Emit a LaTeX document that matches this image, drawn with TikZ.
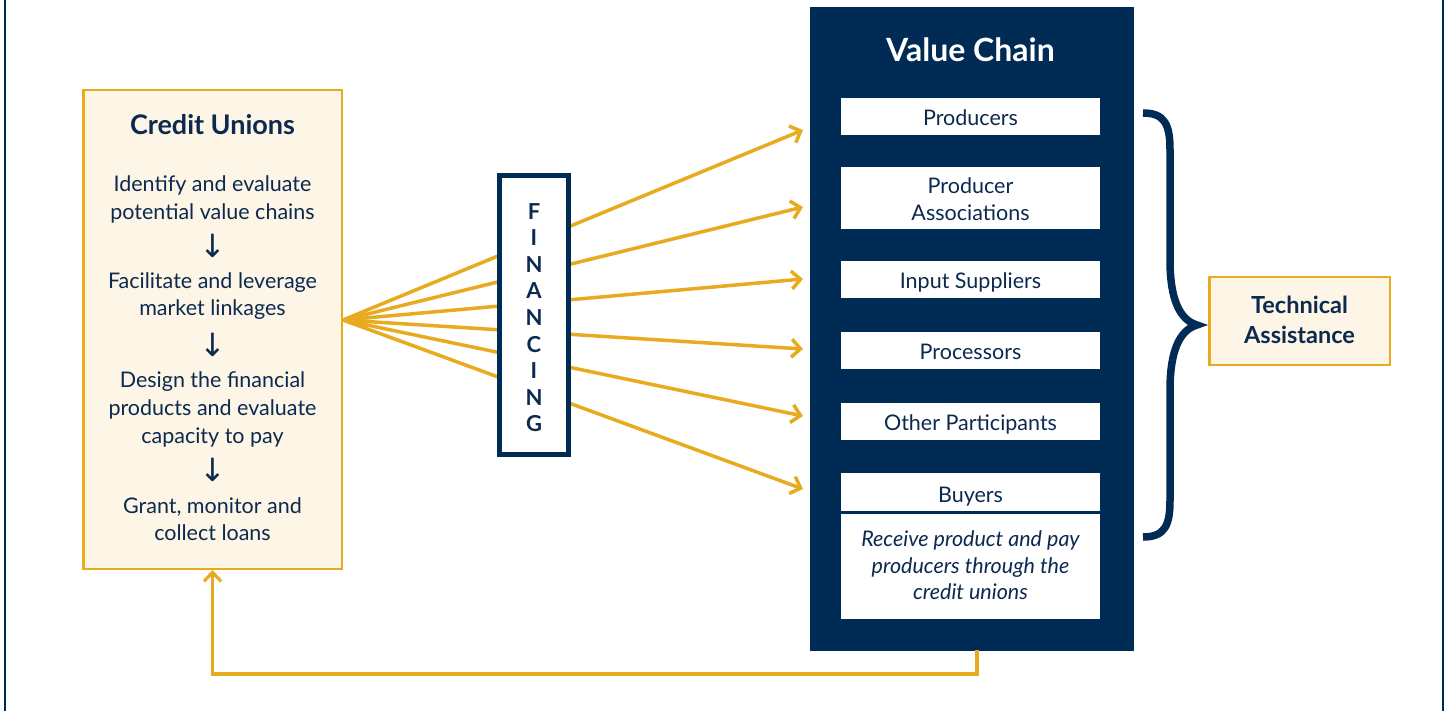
\documentclass[tikz,border=0pt]{standalone}
\usepackage{fontspec}
\setmainfont{Lato}
\newfontfamily\symfont{DejaVu Sans}
\usetikzlibrary{arrows.meta}
\definecolor{navy}{HTML}{002B55}
\definecolor{textnavy}{HTML}{0C2A50}
\definecolor{gold}{HTML}{E8AA1E}
\definecolor{cream}{HTML}{FDF5E5}
\begin{document}
\begin{tikzpicture}[x=1pt,y=-1pt,
  goldbox/.style={draw=gold,line width=2.5pt,fill=cream,inner sep=0pt},
  vcbox/.style={fill=navy,inner sep=0pt},
  wbox/.style={fill=white,inner sep=0pt,minimum width=259pt},
  finbox/.style={draw=navy,line width=5pt,fill=white,inner sep=0pt},
  body/.style={anchor=base,text=textnavy,inner sep=0pt,font=\fontsize{21.5}{26}\selectfont},
  bodyit/.style={body,font=\fontsize{21.5}{26}\selectfont\itshape},
  ttl/.style={anchor=base,text=textnavy,inner sep=0pt,font=\fontsize{27}{30}\selectfont\bfseries},
  downsym/.style={text=textnavy,inner sep=0pt,font=\symfont\fontsize{32}{34}\selectfont},
  fanarrow/.style={draw=gold,line width=3.5pt,-{Straight Barb[length=9pt,width=18pt]}},
  retarrow/.style={draw=gold,line width=3.2pt,-{Straight Barb[length=9pt,width=17pt]}},
  frameline/.style={draw=navy,line width=2pt}
]
\useasboundingbox (0,0) rectangle (1445,711);
% frame lines
\coordinate (fl1) at (5,0); \coordinate (fl2) at (5,711);
\coordinate (fr1) at (1442.5,0); \coordinate (fr2) at (1442.5,711);
\draw[frameline] (fl1) -- (fl2);
\draw[frameline] (fr1) -- (fr2);

% fan arrows
\coordinate (fan) at (343,320);
\foreach \yy [count=\i] in {130,207,279,349,416,489}{
  \coordinate (t\i) at (803,\yy);
  \draw[fanarrow] (fan) -- (t\i);
}

% Credit unions box
\node[goldbox,minimum width=258.5pt,minimum height=478.5pt] (cu) at (212.5,329.5) {};
\node[ttl] (cutitle) at (212.5,135) {Credit Unions};
\foreach \t/\yy [count=\i] in {Identify and evaluate/192,potential value chains/220,Facilitate and leverage/288,market linkages/316,Design the financial/387,products and evaluate/415,capacity to pay/443,{Grant, monitor and}/513,collect loans/540}{
  \node[body] (cul\i) at (212.5,\yy) {\t};
}
\foreach \yy [count=\i] in {246,345,470}{
  \node[downsym] (cud\i) at (213,\yy) {↓};
}

% Financing box
\node[finbox,minimum width=69pt,minimum height=279pt] (fin) at (534,315) {};
\foreach \l [count=\i] in {F,I,N,A,N,C,I,N,G}{
  \node[anchor=base,text=textnavy,inner sep=0pt,font=\fontsize{22}{24}\selectfont\bfseries] (fl\i) at (534,{219.3+26.55*(\i-1)}) {\l};
}

% Value chain
\node[vcbox,minimum width=324pt,minimum height=643pt] (vc) at (972,329) {};
\node[anchor=base,text=white,inner sep=0pt,font=\fontsize{32}{36}\selectfont\bfseries] (vctitle) at (970.5,61.7) {Value Chain};
\node[wbox,minimum height=37pt] (prod) at (970.5,116.5) {};
\node[wbox,minimum height=62pt] (assoc) at (970.5,198) {};
\node[wbox,minimum height=37pt] (input) at (970.5,279.5) {};
\node[wbox,minimum height=37pt] (proc) at (970.5,350.5) {};
\node[wbox,minimum height=37pt] (other) at (970.5,421.5) {};
\node[wbox,minimum height=38pt] (buy) at (970.5,492) {};
\node[wbox,minimum height=105pt] (desc) at (970.5,566.5) {};
\node[body] (prodt) at (970.5,125.7) {Producers};
\node[body] (assoct1) at (970.5,194) {Producer};
\node[body] (assoct2) at (970.5,221) {Associations};
\node[body] (inputt) at (970.5,288) {Input Suppliers};
\node[body] (proct) at (970.5,359) {Processors};
\node[body] (othert) at (970.5,430) {Other Participants};
\node[body] (buyt) at (970.5,502) {Buyers};
\node[bodyit] (desc1) at (970.5,546.7) {Receive product and pay};
\node[bodyit] (desc2) at (970.5,573) {producers through the};
\node[bodyit] (desc3) at (970.5,599) {credit unions};

% return arrow
\coordinate (vcout) at (977,650);
\draw[retarrow] (vcout) -- ++(0,24) -| (cu.south);

% brace
\draw[navy,line width=7.5pt,line join=miter] (1143,113) .. controls (1165,113) and (1170,125) .. (1170,150) -- (1170,260) .. controls (1170,300) and (1180,320) .. (1197,325) .. controls (1180,330) and (1170,350) .. (1170,390) -- (1170,500) .. controls (1170,525) and (1165,537) .. (1143,537);

% technical assistance
\node[goldbox,minimum width=180.5pt,minimum height=87.5pt] (ta) at (1299.5,321) {};
\node[anchor=base,text=textnavy,inner sep=0pt,font=\fontsize{23.5}{28}\selectfont\bfseries] (ta1) at (1299.5,313) {Technical};
\node[anchor=base,text=textnavy,inner sep=0pt,font=\fontsize{23.5}{28}\selectfont\bfseries] (ta2) at (1299.5,343) {Assistance};
\end{tikzpicture}
\end{document}
